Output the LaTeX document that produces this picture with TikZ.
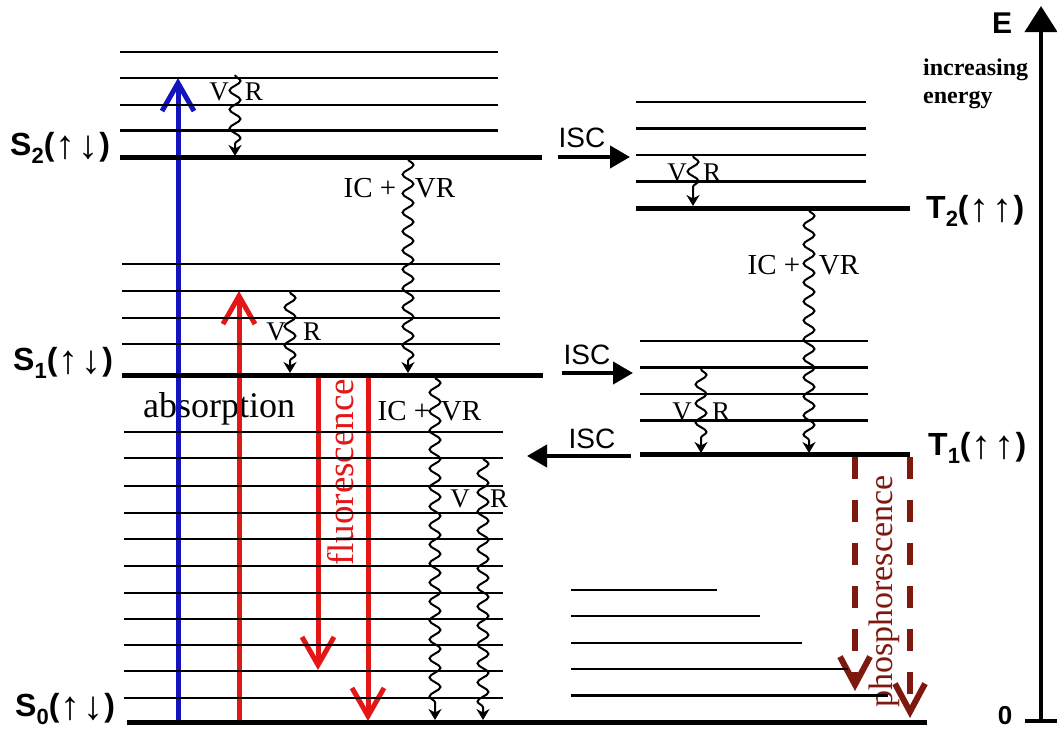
\documentclass[tikz,border=0pt]{standalone}
\usepackage{fontspec}
\setmainfont{Liberation Serif}
\newfontfamily\helv{Liberation Sans}
\usetikzlibrary{arrows.meta,decorations.pathmorphing}
\definecolor{absblue}{RGB}{20,20,190}
\definecolor{fred}{RGB}{228,22,22}
\definecolor{pred}{RGB}{125,25,15}
\newcommand\fsz[1]{\fontsize{#1}{#1}\selectfont}
\newcommand\spinarr[2]{\raisebox{-0.12em}{\helv\mdseries\fsz{40}\hspace{1pt}#1\hspace{3pt}#2\hspace{1pt}}}
\newcommand\statelbl[4]{{\helv\bfseries\fsz{32}#1\raisebox{-0.28em}{\fsz{22}#2}(\spinarr{#3}{#4})}}
\begin{document}
\begin{tikzpicture}[x=1pt,y=-1pt,
  lvl/.style={line width=2.2pt},
  mainlvl/.style={line width=5pt},
  wavy/.style={line width=2pt, decorate,
    decoration={snake, segment length=19pt, amplitude=5.5pt, post length=10pt},
    -{Stealth[length=11pt,width=13pt]}},
  iscarrow/.style={line width=4pt, -{Triangle[length=20pt,width=22pt]}},
  emit/.style={line width=5pt, -{Straight Barb[length=28pt,width=32pt]}},
  phos/.style={line width=6pt, draw=pred, dash pattern=on 22pt off 21pt,
    -{Straight Barb[length=28pt,width=30pt]}},
  lab/.style={inner sep=0pt, font=\fsz{27}},
  iclab/.style={inner sep=0pt, font=\fsz{29}},
  isclab/.style={inner sep=0pt, font=\helv\fsz{28}},
  statelab/.style={inner sep=0pt, anchor=base west},
]
\useasboundingbox (0,0) rectangle (1057,732);
\fill[white] (0,0) rectangle (1057,732);

% ---- texts under lines
\node[anchor=base west, inner sep=0pt, font=\fsz{36}] (abs) at (143,417) {absorption};
\node[rotate=90, anchor=base west, inner sep=0pt, font=\fsz{37}, text=fred] (fl) at (353,566) {fluorescence};
\node[rotate=90, anchor=base west, inner sep=0pt, font=\fsz{34}, text=pred] (ph) at (892,708) {phosphorescence};

% ---- coordinates of radiative transitions
\coordinate (bA) at (178,722); \coordinate (bB) at (178,78);
\coordinate (rA) at (239,722); \coordinate (rB) at (239,291);
\coordinate (f1A) at (318,377); \coordinate (f1B) at (318,670);
\coordinate (f2A) at (368,377); \coordinate (f2B) at (368,721);
\coordinate (p1A) at (855,457); \coordinate (p1B) at (855,691);
\coordinate (p2A) at (910,457); \coordinate (p2B) at (910,718);

\draw[emit, absblue] (bA) -- (bB);
\draw[emit, fred] (rA) -- (rB);
\draw[emit, fred] (f1A) -- (f1B);
\draw[emit, fred] (f2A) -- (f2B);
\draw[phos] (p1A) -- (p1B);
\draw[phos] (p2A) -- (p2B);

% ---- energy levels
\foreach \y in {51.7,78.3,105,130.5} \draw[lvl] (120,\y) -- (498,\y);
\draw[mainlvl] (120,157.5) -- (542,157.5);
\foreach \y in {264,290.7,318,344.3} \draw[lvl] (122,\y) -- (500,\y);
\draw[mainlvl] (122,375) -- (543,375);
\foreach \y in {431.7,458.3,486,512.7,539,565.7,592.7,619,645,671,697.7} \draw[lvl] (124,\y) -- (503,\y);
\draw[mainlvl] (127,722) -- (927,722);
\foreach \y in {102,128.5,155,181.5} \draw[lvl] (636,\y) -- (866,\y);
\draw[mainlvl] (636,208) -- (910,208);
\foreach \y in {341,367.5,394,420.5} \draw[lvl] (640,\y) -- (868,\y);
\draw[mainlvl] (640,454.5) -- (910,454.5);
\foreach \y/\xe in {590/717,616/760,643/802,669/848,695.5/888} \draw[lvl] (571,\y) -- (\xe,\y);

% ---- non-radiative (wavy) transitions
\coordinate (w1a) at (235,75);  \coordinate (w1b) at (235,156);
\coordinate (w2a) at (408,159); \coordinate (w2b) at (408,373);
\coordinate (w3a) at (290,292); \coordinate (w3b) at (290,373);
\coordinate (w4a) at (435,377); \coordinate (w4b) at (435,720);
\coordinate (w5a) at (483,458); \coordinate (w5b) at (483,720);
\coordinate (w6a) at (693,156); \coordinate (w6b) at (693,206);
\coordinate (w7a) at (809,210); \coordinate (w7b) at (809,453);
\coordinate (w8a) at (701,369); \coordinate (w8b) at (701,453);
\foreach \i in {1,...,8} \draw[wavy] (w\i a) -- (w\i b);

\node[lab] (v1) at (219,92) {V};   \node[lab] (r1) at (254,92) {R};
\node[lab] (v3) at (276,332) {V};  \node[lab] (r3) at (312,332) {R};
\node[lab] (v5) at (460,499) {V};  \node[lab] (r5) at (499,499) {R};
\node[lab] (v6) at (677,173) {V};  \node[lab] (r6) at (712,173) {R};
\node[lab] (v8) at (682,412) {V};  \node[lab] (r8) at (721,412) {R};

\node[iclab] (ic1) at (370,188) {IC +}; \node[iclab] (icvr1) at (435,188) {VR};
\node[iclab] (ic2) at (404,411) {IC +}; \node[iclab] (icvr2) at (461,411) {VR};
\node[iclab] (ic3) at (774,265) {IC +}; \node[iclab] (icvr3) at (839,265) {VR};

% ---- intersystem crossings
\coordinate (i1a) at (558,157); \coordinate (i1b) at (630,157);
\coordinate (i2a) at (562,373); \coordinate (i2b) at (633,373);
\coordinate (i3a) at (631,456); \coordinate (i3b) at (527,456);
\draw[iscarrow] (i1a) -- (i1b);
\draw[iscarrow] (i2a) -- (i2b);
\draw[iscarrow] (i3a) -- (i3b);
\node[isclab] (isc1) at (582,138) {ISC};
\node[isclab] (isc2) at (587,355) {ISC};
\node[isclab] (isc3) at (592,439) {ISC};

% ---- state labels
\node[statelab] (S2l) at (10,155) {\statelbl{S}{2}{↑}{↓}};
\node[statelab] (S1l) at (13,370) {\statelbl{S}{1}{↑}{↓}};
\node[statelab] (S0l) at (15,716) {\statelbl{S}{0}{↑}{↓}};
\node[statelab] (T2l) at (926,218) {\statelbl{T}{2}{↑}{↑}};
\node[statelab] (T1l) at (928,455) {\statelbl{T}{1}{↑}{↑}};

% ---- energy axis
\coordinate (eA) at (1041,721); \coordinate (eB) at (1041,6);
\coordinate (tA) at (1025,721); \coordinate (tB) at (1057,721);
\draw[line width=4pt, -{Triangle[length=26pt,width=32pt]}] (eA) -- (eB);
\draw[line width=4pt] (tA) -- (tB);
\node[inner sep=0pt, font=\helv\bfseries\fsz{30}] (E) at (1002,23) {E};
\node[inner sep=0pt, anchor=base west, font=\bfseries\fsz{24}] (inc) at (923,75) {increasing};
\node[inner sep=0pt, anchor=base west, font=\bfseries\fsz{24}] (ene) at (923,103) {energy};
\node[inner sep=0pt, font=\helv\bfseries\fsz{26}] (zero) at (1005,716) {0};
\end{tikzpicture}
\end{document}
